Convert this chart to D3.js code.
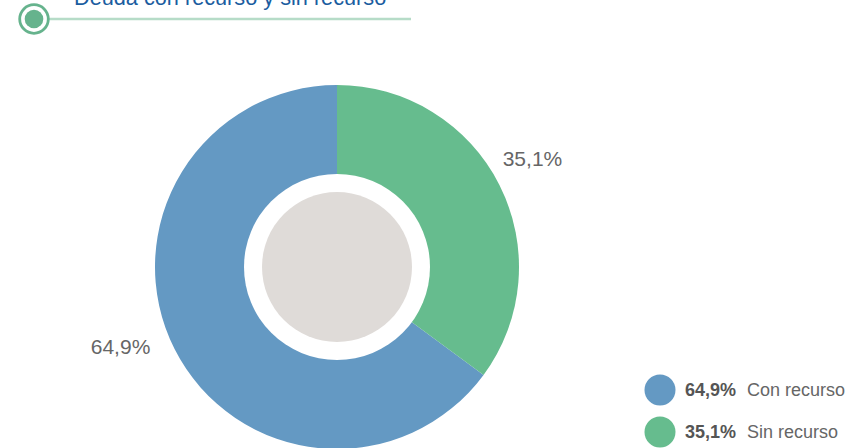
<!DOCTYPE html>
<html>
<head>
    <meta charset="utf-8">
    <title>Deuda con recurso y sin recurso</title>
    <style>
        body { margin: 0; background: #fff; }
        svg { display: block; font-family: 'Liberation Sans', Arial, sans-serif; }
    </style>
</head>
<body>
<div class='chart-container'></div>
<script src="https://cdn.jsdelivr.net/npm/d3@7/dist/d3.min.js"></script>
<script>
    // data
    var categories = ['Con recurso', 'Sin recurso'];
    var values = [64.9, 35.1];
    var valueLabels = ['64,9%', '35,1%'];
    var colors = ['#6499c3', '#66bc8e'];
    var title = 'Deuda con recurso y sin recurso';

    var width = 856, height = 448;
    var cx = 337, cy = 267;
    var outerR = 182, holeR = 93, coreR = 75;

    var svg = d3.select('.chart-container').append('svg')
            .attr('width', width)
            .attr('height', height);

    // header: ring marker + rule + title (title is clipped at the top, as in the source)
    svg.append('line')
            .attr('x1', 48).attr('x2', 411)
            .attr('y1', 19).attr('y2', 19)
            .style('stroke', '#b6dcc8')
            .style('stroke-width', 2.5);

    svg.append('circle')
            .attr('cx', 34).attr('cy', 19).attr('r', 14.3)
            .style('fill', '#fff')
            .style('stroke', '#66b38d')
            .style('stroke-width', 2.8);

    svg.append('circle')
            .attr('cx', 34).attr('cy', 19).attr('r', 9.3)
            .style('fill', '#66b38d');

    svg.append('text')
            .attr('x', 74).attr('y', 5)
            .style('font-size', '21.7px')
            .style('fill', '#1b5d9f')
            .text(title);

    // donut: Con recurso ends at 12 o'clock, Sin recurso starts there
    var total = d3.sum(values);
    var pie = d3.pie()
            .sort(null)
            .startAngle(-2 * Math.PI * values[0] / total)
            .endAngle(2 * Math.PI * (1 - values[0] / total));

    var arcs = pie(values);

    var arc = d3.arc().innerRadius(0).outerRadius(outerR);
    var labelArc = d3.arc().innerRadius(228).outerRadius(228);

    var g = svg.append('g')
            .attr('transform', 'translate(' + cx + ',' + cy + ')');

    g.selectAll('path.slice')
            .data(arcs)
            .enter().append('path')
            .attr('class', 'slice')
            .attr('d', arc)
            .style('fill', function (d, i) { return colors[i]; });

    g.append('circle').attr('r', holeR).style('fill', '#fff');
    g.append('circle').attr('r', coreR).style('fill', '#dfdbd8');

    var labelOffsets = [[-13, -23], [-8, -5]];

    g.selectAll('text.value')
            .data(arcs)
            .enter().append('text')
            .attr('class', 'value')
            .attr('x', function (d, i) { return labelArc.centroid(d)[0] + labelOffsets[i][0]; })
            .attr('y', function (d, i) { return labelArc.centroid(d)[1] + labelOffsets[i][1]; })
            .attr('dy', '0.35em')
            .attr('text-anchor', 'middle')
            .style('font-size', '21px')
            .style('fill', '#666')
            .text(function (d, i) { return valueLabels[i]; });

    // legend
    var legend = svg.append('g')
            .attr('transform', 'translate(660,390)');

    var item = legend.selectAll('g')
            .data(categories)
            .enter().append('g')
            .attr('transform', function (d, i) { return 'translate(0,' + (i * 42) + ')'; });

    item.append('circle')
            .attr('r', 15.5)
            .style('fill', function (d, i) { return colors[i]; });

    var txt = item.append('text')
            .attr('x', 25)
            .attr('y', 6)
            .style('font-size', '18px')
            .style('fill', '#555');

    txt.append('tspan')
            .style('font-weight', 'bold')
            .text(function (d, i) { return valueLabels[i]; });

    txt.append('tspan')
            .attr('dx', 11)
            .style('fill', '#666')
            .text(function (d) { return d; });
</script>
</body>
</html>
